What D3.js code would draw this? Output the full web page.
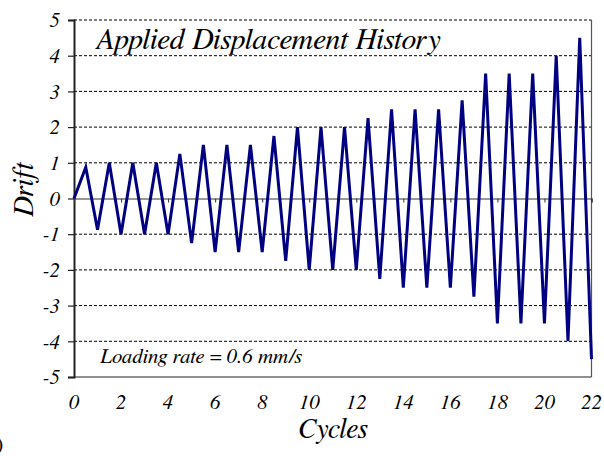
<!DOCTYPE html>
<html><head><meta charset="utf-8">
<script src="https://cdn.jsdelivr.net/npm/d3@7"></script>
</head><body style="margin:0;background:#fff">
<script>
const cycles = [0,0.5,1,1.5,2,2.5,3,3.5,4,4.5,5,5.5,6,6.5,7,7.5,8,8.5,9,9.5,10,10.5,11,11.5,12,12.5,13,13.5,14,14.5,15,15.5,16,16.5,17,17.5,18,18.5,19,19.5,20,20.5,21,21.5,22];
const drift = [0,0.875,-0.875,1,-1,1,-1,1,-1,1.25,-1.25,1.5,-1.5,1.5,-1.5,1.5,-1.5,1.75,-1.75,2,-2,2,-2,2,-2,2.25,-2.25,2.5,-2.5,2.5,-2.5,2.5,-2.5,2.75,-2.75,3.5,-3.5,3.5,-3.5,3.5,-3.5,4,-4,4.5,-4.5];
const xTicks = [0,2,4,6,8,10,12,14,16,18,20,22];
const yTicks = [-5,-4,-3,-2,-1,0,1,2,3,4,5];
const title = "Applied Displacement History";
const note = "Loading rate = 0.6 mm/s";

const W=604,H=456;
const svg=d3.select("body").append("svg").attr("width",W).attr("height",H).style("display","block");
const x=d3.scaleLinear().domain([0,22]).range([74,591.5]);
const y=d3.scaleLinear().domain([-5,5]).range([377,20]);
const FF="'FreeSerif','Liberation Serif',serif";
function styl(sel,size){return sel.attr("font-family",FF).attr("font-style","italic").attr("font-size",size).attr("fill","#000");}

// gridlines
svg.append("g").selectAll("line").data(yTicks.filter(v=>v!==0&&v!==-5)).join("line")
 .attr("x1",x(0)).attr("x2",x(22)).attr("y1",d=>y(d)).attr("y2",d=>y(d))
 .attr("stroke","#000").attr("stroke-width",1).attr("stroke-dasharray","3,2");
// right border and bottom
svg.append("line").attr("x1",x(22)).attr("x2",x(22)).attr("y1",y(5)).attr("y2",y(-5)).attr("stroke","#555").attr("stroke-width",1.2);
svg.append("line").attr("x1",x(0)).attr("x2",x(22)).attr("y1",y(-5)).attr("y2",y(-5)).attr("stroke","#222").attr("stroke-width",1.2);

// y axis
const ya=svg.append("g").attr("transform",`translate(${x(0)},0)`).call(d3.axisLeft(y).tickValues(yTicks).tickSize(6).tickPadding(8).tickFormat(d=>String(d)));
ya.select(".domain").attr("stroke","#222").attr("stroke-width",2);
ya.selectAll(".tick line").attr("stroke","#222").attr("stroke-width",1.2);
styl(ya.selectAll("text"),21);

// x axis on zero line
const xa=svg.append("g").attr("transform",`translate(0,${y(0)})`).call(d3.axisBottom(x).tickValues(xTicks).tickSize(4).tickFormat(""));
xa.select(".domain").attr("stroke","#333").attr("stroke-width",1.2);
xa.selectAll(".tick line").attr("stroke","#333");
styl(svg.append("g").selectAll("text").data(xTicks).join("text")
 .attr("x",d=>x(d)).attr("y",409).attr("text-anchor","middle").text(d=>d),21);

// line
svg.append("path").datum(cycles.map((c,i)=>[c,drift[i]]))
 .attr("d",d3.line().x(d=>x(d[0])).y(d=>y(d[1])))
 .attr("fill","none").attr("stroke","#000080").attr("stroke-width",3).attr("stroke-linejoin","miter");

// labels
styl(svg.append("text").attr("x",95).attr("y",49).text(title),30);
styl(svg.append("text").attr("x",100).attr("y",363).text(note),21);
styl(svg.append("text").attr("x",333).attr("y",438).attr("text-anchor","middle").text("Cycles"),28);
styl(svg.append("text").attr("transform","translate(33,190) rotate(-90)").attr("text-anchor","middle").text("Drift"),29);
styl(svg.append("text").attr("x",-4).attr("y",451).text(")"),22).attr("font-style","normal");
</script>
</body></html>
